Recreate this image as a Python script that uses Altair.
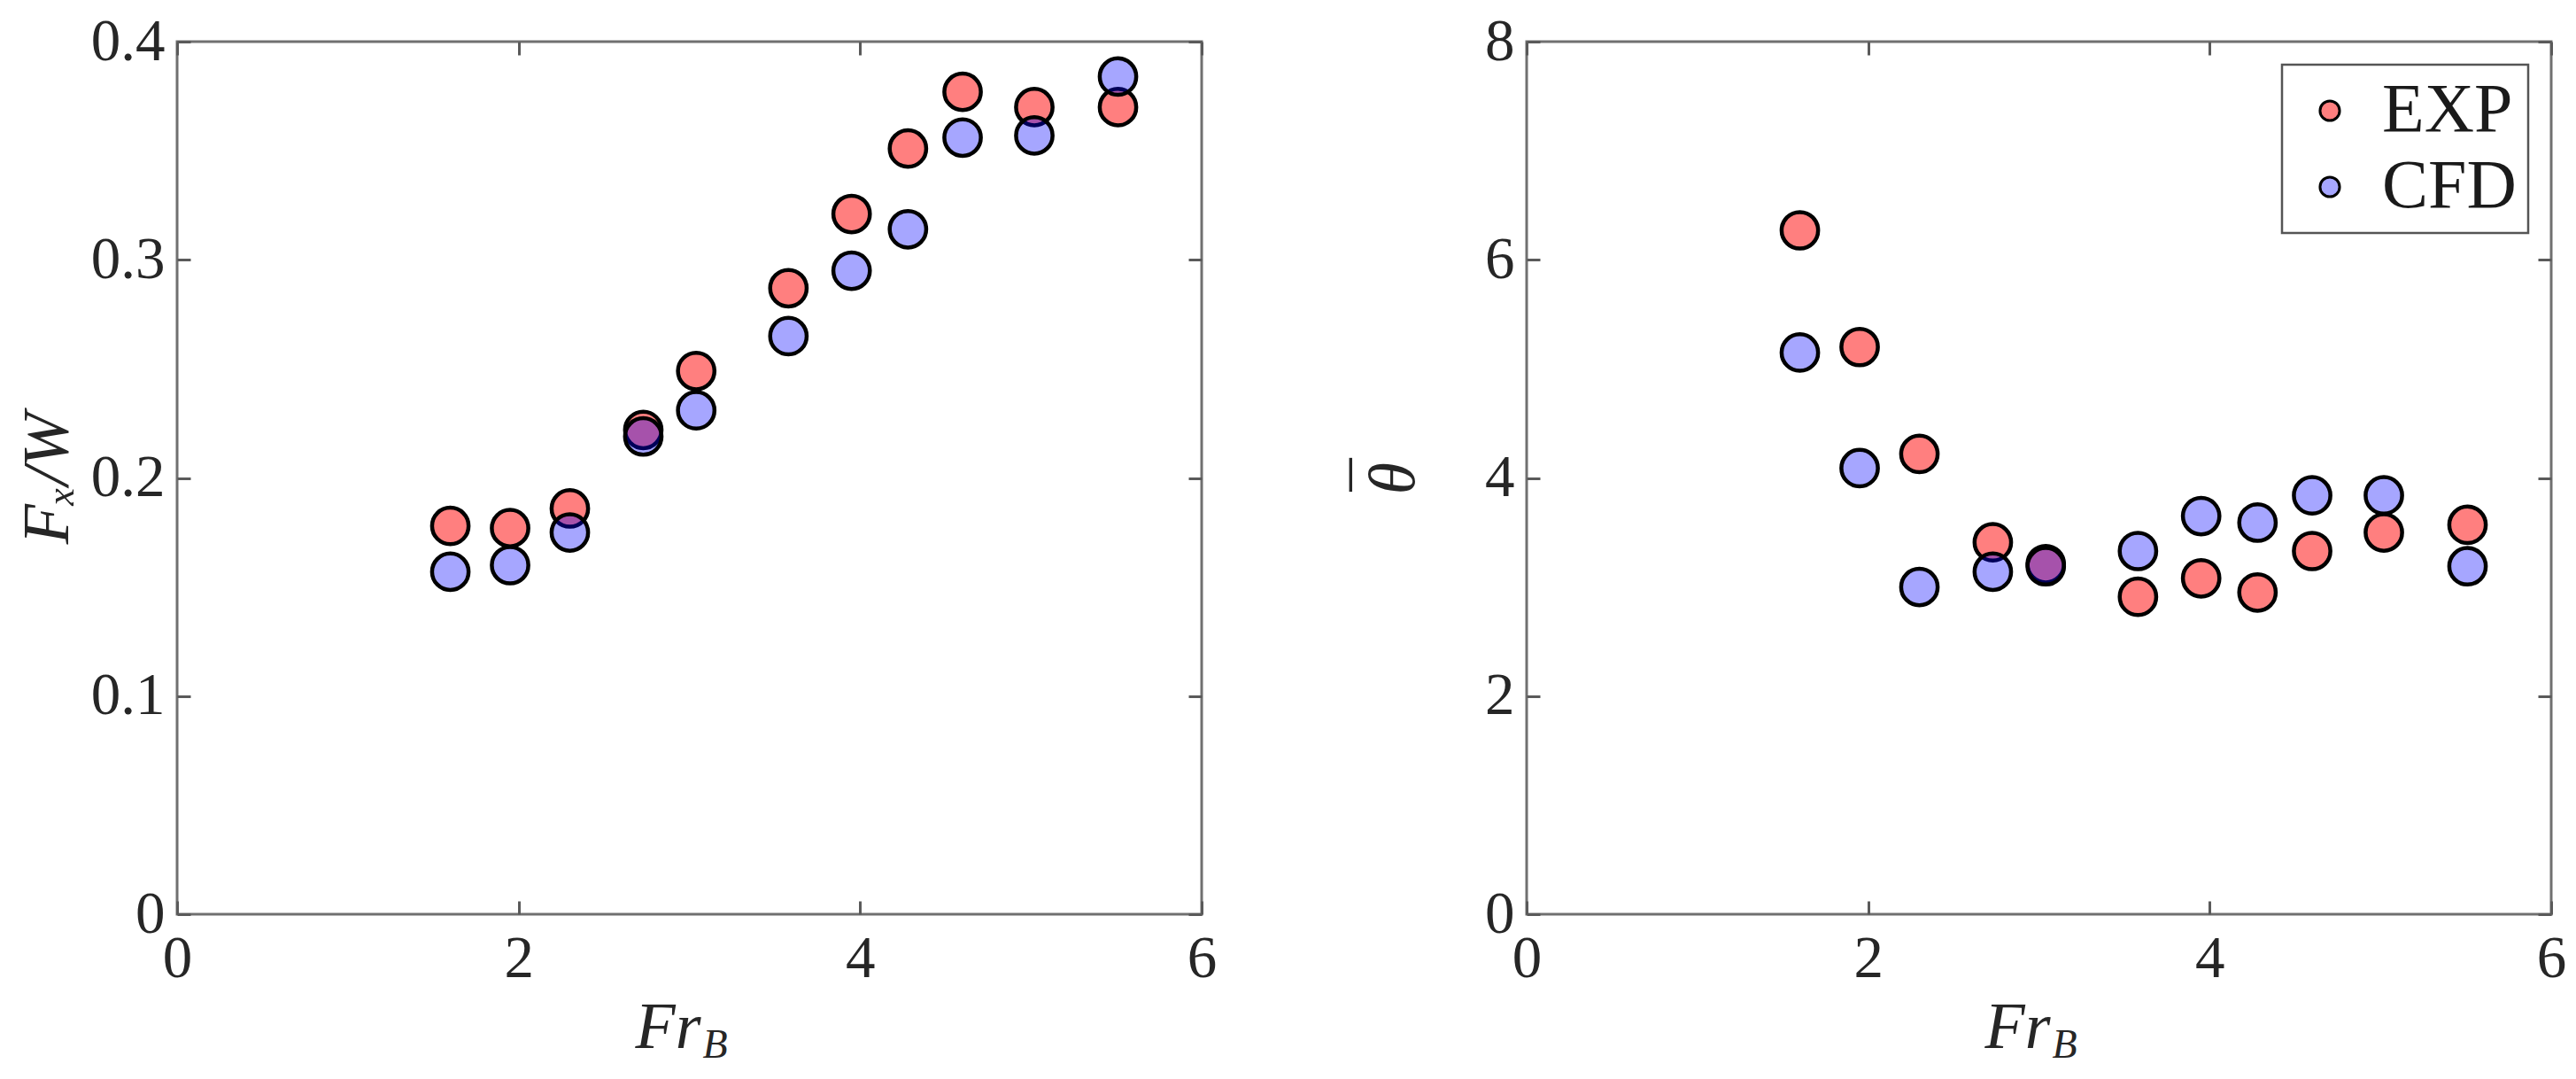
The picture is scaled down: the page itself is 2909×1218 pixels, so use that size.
import altair as alt
import pandas as pd

# ---- data ----
fr_b = [1.60, 1.95, 2.30, 2.73, 3.04, 3.58, 3.95, 4.28, 4.60, 5.02, 5.51]
fx_exp = [0.178, 0.177, 0.186, 0.222, 0.249, 0.287, 0.321, 0.351, 0.377, 0.370, 0.370]
fx_cfd = [0.157, 0.160, 0.175, 0.219, 0.231, 0.265, 0.295, 0.314, 0.356, 0.357, 0.384]
th_exp = [6.27, 5.20, 4.22, 3.41, 3.21, 2.91, 3.08, 2.95, 3.33, 3.50, 3.57]
th_cfd = [5.15, 4.09, 3.00, 3.14, 3.19, 3.33, 3.65, 3.59, 3.84, 3.84, 3.19]

x_ticks = [0, 2, 4, 6]
fx_ticks = [0, 0.1, 0.2, 0.3, 0.4]
th_ticks = [0, 2, 4, 6, 8]

series_names = ["EXP", "CFD"]
series_fill = ["rgba(255,0,0,0.5)", "rgba(0,0,255,0.35)"]

rows = []
for s, fx, th in [("EXP", fx_exp, th_exp), ("CFD", fx_cfd, th_cfd)]:
    for f, a, b in zip(fr_b, fx, th):
        rows.append({"Fr": f, "fx": a, "theta": b, "series": s})
df = pd.DataFrame(rows)

W, H = 1157, 985
FONT = "Liberation Serif"
TITLE_FS = 74


def panel(ycol, ydom, yticks, ytitle, ytitle_x, ybar, legend):
    xs = alt.Scale(domain=[0, 6], nice=False, zero=False)
    ys = alt.Scale(domain=ydom, nice=False, zero=False)
    base = alt.Chart(df)

    pts = base.mark_circle(size=1700, opacity=1, stroke="black", strokeWidth=4.5).encode(
        x=alt.X("Fr:Q", scale=xs, axis=alt.Axis(
            values=x_ticks, ticks=False, domain=False, grid=False, format="~g",
            labelFlush=False, labelPadding=17, title="Fr", titleX=591, titleY=150,
            titleAlign="right", titleBaseline="alphabetic", titleAngle=0)),
        y=alt.Y(f"{ycol}:Q", scale=ys, axis=alt.Axis(
            values=yticks, ticks=False, domain=False, grid=False, format="~g",
            labelFlush=False, labelPadding=14, title=ytitle,
            titleX=ytitle_x, titleY=H / 2,
            titleAngle=-90, titleAlign="center", titleBaseline="alphabetic")),
        fill=alt.Fill("series:N", sort=series_names,
                      scale=alt.Scale(domain=series_names, range=series_fill),
                      legend=legend),
    )

    # inward ticks along bottom (top-oriented axis moved down) and left
    y_t1 = dict(orient="right", offset=-W, values=yticks, labels=False, domain=False,
                grid=False)
    if ybar:
        y_t1.update(title=ybar, titleX=ytitle_x - 17, titleY=H / 2 - 4, titleAngle=-90,
                    titleAlign="center", titleBaseline="alphabetic", titleFontStyle="normal")
    else:
        y_t1.update(title=None)
    t1 = base.mark_point(opacity=0).encode(
        x=alt.X("Fr:Q", scale=xs, axis=alt.Axis(
            orient="top", offset=-H, values=x_ticks, labels=False, domain=False,
            grid=False, title="B", titleX=593, titleY=161, titleAlign="left",
            titleBaseline="alphabetic", titleFontSize=46, titleAngle=0)),
        y=alt.Y(f"{ycol}:Q", scale=ys, axis=alt.Axis(**y_t1)),
    )
    # inward ticks along top and right
    t2 = base.mark_point(opacity=0).encode(
        x=alt.X("Fr:Q", scale=xs, axis=alt.Axis(
            orient="bottom", offset=-H, values=x_ticks, labels=False, domain=False,
            grid=False, title=None)),
        y=alt.Y(f"{ycol}:Q", scale=ys, axis=alt.Axis(
            orient="left", offset=-W, values=yticks, labels=False, domain=False,
            grid=False, title=None)),
    )
    return alt.layer(pts, t1, t2).resolve_axis(x="independent", y="independent").properties(
        width=W, height=H)


left = panel("fx", [0, 0.4], fx_ticks, "Fₓ/W", -124, None, None)
right = panel("theta", [0, 8], th_ticks, "θ", -128, "¯",
              alt.Legend(title=None, orient="top-right", offset=26))

chart = alt.hconcat(left, right, spacing=142).resolve_scale(fill="independent").properties(
    padding={"left": 7, "top": 3, "right": 0, "bottom": 5}
).configure_view(
    stroke="#707070", strokeWidth=3
).configure_axis(
    labelFont=FONT, labelFontSize=67, labelColor="#262626",
    titleFont=FONT, titleFontSize=TITLE_FS, titleFontWeight="normal",
    titleFontStyle="italic", titleColor="#262626",
    tickColor="#5a5a5a", tickWidth=3, tickSize=15,
).configure_legend(
    labelFont=FONT, labelFontSize=78, labelColor="#1a1a1a",
    symbolType="circle", symbolSize=490, symbolStrokeColor="black",
    symbolStrokeWidth=3, symbolOffset=2, labelOffset=20,
    padding=13, rowPadding=8, fillColor="white",
    strokeColor="#555555", strokeWidth=2.5, cornerRadius=0,
)

chart.save("out.html", embed_options={"renderer": "svg", "actions": False})
